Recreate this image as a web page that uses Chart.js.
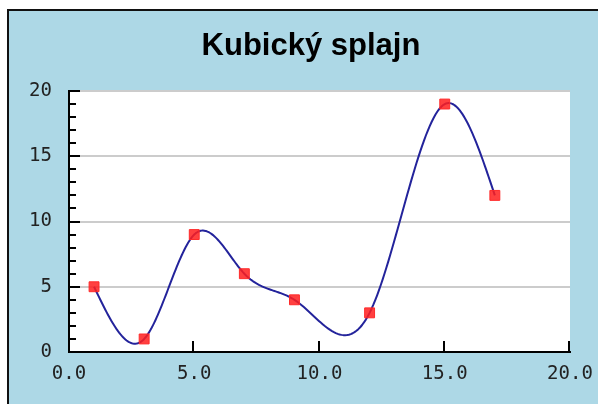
<!DOCTYPE html>
<html>
<head>
<meta charset="utf-8">
<script src="https://cdn.jsdelivr.net/npm/chart.js@4/dist/chart.umd.min.js"></script>
<style>
html,body{margin:0;padding:0;background:#fff;}
#wrap{width:598px;height:404px;position:relative;}
</style>
</head>
<body>
<div id="wrap"><canvas id="c" width="598" height="404"></canvas></div>
<script>
const titleText = 'Kubický splajn';
const xValues = [1, 3, 5, 7, 9, 12, 15, 17];
const yValues = [5, 1, 9, 6, 4, 3, 19, 12];
const xTickValues = [0, 5, 10, 15, 20];
const yTickValues = [0, 5, 10, 15, 20];

const points = xValues.map((x, i) => ({x: x, y: yValues[i]}));

// second derivatives of the natural cubic spline through the data (used only for rendering the curve)
function naturalSplineM(xs, ys) {
  const n = xs.length;
  const M = new Array(n).fill(0);
  if (n < 3) return M;
  const a = [], b = [], c = [], d = [];
  for (let i = 1; i < n - 1; i++) {
    const h0 = xs[i] - xs[i - 1], h1 = xs[i + 1] - xs[i];
    a.push(h0); b.push(2 * (h0 + h1)); c.push(h1);
    d.push(6 * ((ys[i + 1] - ys[i]) / h1 - (ys[i] - ys[i - 1]) / h0));
  }
  const m = b.length;
  for (let i = 1; i < m; i++) {
    const w = a[i] / b[i - 1];
    b[i] -= w * c[i - 1];
    d[i] -= w * d[i - 1];
  }
  const sol = new Array(m);
  sol[m - 1] = d[m - 1] / b[m - 1];
  for (let i = m - 2; i >= 0; i--) sol[i] = (d[i] - c[i] * sol[i + 1]) / b[i];
  for (let i = 0; i < m; i++) M[i + 1] = sol[i];
  return M;
}

const splinePlugin = {
  id: 'cubicSpline',
  beforeDatasetsDraw(chart) {
    const xs = chart.scales.x, ys = chart.scales.y;
    const M = naturalSplineM(xValues, yValues);
    const ctx = chart.ctx;
    ctx.save();
    ctx.strokeStyle = '#23239b';
    ctx.lineWidth = 2;
    ctx.lineJoin = 'round';
    ctx.beginPath();
    let first = true;
    for (let i = 0; i < xValues.length - 1; i++) {
      const x0 = xValues[i], x1 = xValues[i + 1], h = x1 - x0;
      const steps = 40;
      for (let k = 0; k <= steps; k++) {
        const x = x0 + h * k / steps;
        const A = (x1 - x) / h, B = (x - x0) / h;
        const y = A * yValues[i] + B * yValues[i + 1] +
          ((A * A * A - A) * M[i] + (B * B * B - B) * M[i + 1]) * h * h / 6;
        const px = xs.getPixelForValue(x), py = ys.getPixelForValue(y);
        if (first) { ctx.moveTo(px, py); first = false; } else ctx.lineTo(px, py);
      }
    }
    ctx.stroke();
    ctx.restore();
  }
};

const framePlugin = {
  id: 'frame',
  afterLayout(chart) {
    if (chart.titleBlock) {
      chart.titleBlock.left += 26;
      chart.titleBlock.right += 26;
    }
  },
  beforeDraw(chart) {
    const ctx = chart.ctx;
    const a = chart.chartArea;
    ctx.save();
    ctx.fillStyle = '#ffffff';
    ctx.fillRect(0, 0, chart.width, chart.height);
    ctx.fillStyle = '#111111';
    ctx.fillRect(7, 9, chart.width - 7, chart.height - 9);
    ctx.fillStyle = '#add8e6';
    ctx.fillRect(9, 11, chart.width - 9, chart.height - 11);
    ctx.fillStyle = '#ffffff';
    ctx.fillRect(a.left, a.top, a.right - a.left, a.bottom - a.top);
    ctx.restore();
  },
  afterDatasetsDraw(chart) {
    const ctx = chart.ctx;
    const a = chart.chartArea;
    const xs = chart.scales.x, ys = chart.scales.y;
    ctx.save();
    ctx.strokeStyle = '#000';
    ctx.lineWidth = 2;
    ctx.beginPath();
    for (let v = ys.min; v <= ys.max; v += 1) {
      const y = Math.round(ys.getPixelForValue(v));
      const len = (v % 5 === 0) ? 11 : 7;
      ctx.moveTo(a.left, y);
      ctx.lineTo(a.left + len, y);
    }
    xTickValues.forEach(v => {
      if (v === 0) return;
      const x = Math.round(xs.getPixelForValue(v)) - 1;
      ctx.moveTo(x, a.bottom);
      ctx.lineTo(x, a.bottom - 11);
    });
    ctx.stroke();
    ctx.restore();
  }
};

const tickFont = {family: 'DejaVu Sans Mono', size: 19};

new Chart(document.getElementById('c'), {
  type: 'line',
  data: {
    datasets: [{
      data: points,
      showLine: false,
      borderColor: '#23239b',
      borderWidth: 2,
      fill: false,
      pointStyle: 'rect',
      pointRadius: 7,
      pointBackgroundColor: 'rgba(255,30,30,0.85)',
      pointBorderColor: '#ff2a2a',
      pointBorderWidth: 1
    }]
  },
  options: {
    responsive: false,
    animation: false,
    events: [],
    layout: {padding: {left: 0, right: 28, top: 0, bottom: 0}},
    plugins: {
      legend: {display: false},
      tooltip: {enabled: false},
      title: {
        display: true,
        text: titleText,
        color: '#000',
        font: {family: 'Liberation Sans', size: 31, weight: 'bold', lineHeight: 1.2},
        padding: {top: 28, bottom: 25.8}
      }
    },
    scales: {
      x: {
        type: 'linear',
        min: 0, max: 20,
        afterFit(s) { s.height = 52; s.paddingLeft = 0; s.paddingRight = 0; },
        afterBuildTicks(s) { s.ticks = xTickValues.map(v => ({value: v})); },
        ticks: {
          font: tickFont, color: '#222', padding: 11, maxRotation: 0,
          callback: v => v.toFixed(1)
        },
        grid: {display: false, drawTicks: false},
        border: {display: true, color: '#000', width: 2}
      },
      y: {
        min: 0, max: 20,
        afterFit(s) { s.width = 69; },
        afterBuildTicks(s) { s.ticks = yTickValues.map(v => ({value: v})); },
        ticks: {
          font: tickFont, color: '#222', padding: 17,
          callback: v => String(v)
        },
        grid: {display: true, drawTicks: false, color: '#cccccc', lineWidth: 2},
        border: {display: true, color: '#000', width: 2}
      }
    }
  },
  plugins: [framePlugin, splinePlugin]
});
</script>
</body>
</html>
